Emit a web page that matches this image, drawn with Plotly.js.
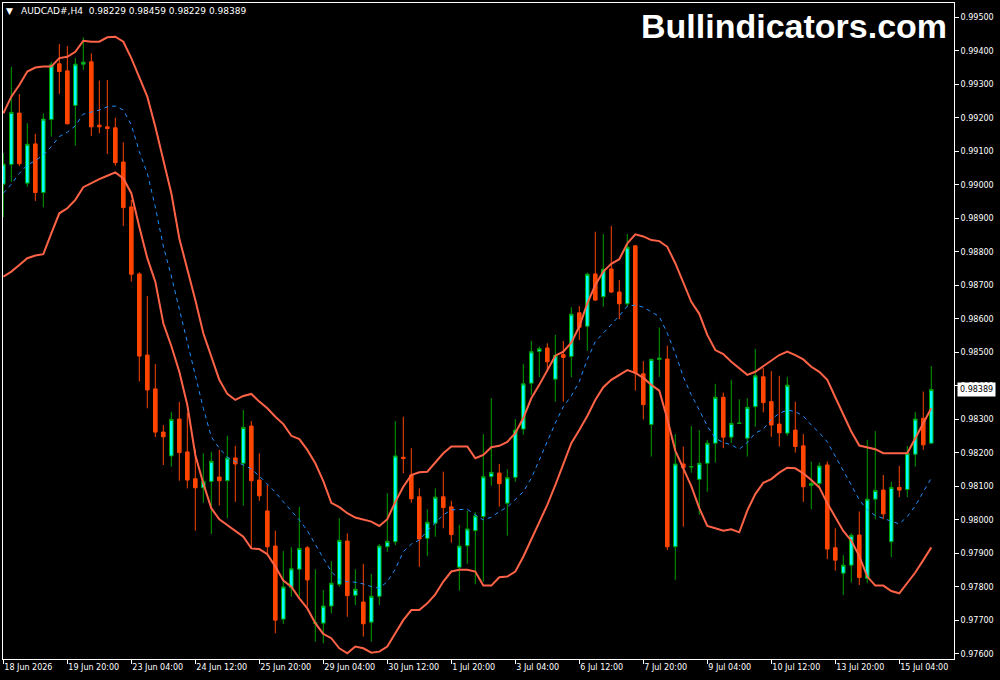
<!DOCTYPE html>
<html>
<head>
<meta charset="utf-8">
<script src="https://cdn.plot.ly/plotly-3.0.1.min.js"></script>
<style>html,body{margin:0;padding:0;background:#000;}#chart{width:1000px;height:680px;}</style>
</head>
<body>
<div id="chart"></div>
<script>
const symbol = "AUDCAD#,H4";
const watermark = "Bullindicators.com";
const tickLabels = ["18 Jun 2026","19 Jun 20:00","23 Jun 04:00","24 Jun 12:00","25 Jun 20:00","29 Jun 04:00","30 Jun 12:00","1 Jul 20:00","3 Jul 04:00","6 Jul 12:00","7 Jul 20:00","9 Jul 04:00","10 Jul 12:00","13 Jul 20:00","15 Jul 04:00"];

const open = [
0.99002,0.99061,0.99214,0.99005,0.99122,0.98977,0.99195,0.99361,0.99340,0.99237,
0.99360,0.99367,0.99178,0.99173,0.99170,0.99068,0.98934,0.98734,0.98492,0.98391,
0.98262,0.98191,0.98301,0.98203,0.98123,0.98096,0.98115,0.98128,0.98117,0.98185,
0.98169,0.98280,0.98119,0.98027,0.97922,0.97704,0.97798,0.97853,0.97917,0.97692,
0.97692,0.97743,0.97808,0.97937,0.97775,0.97755,0.97695,0.97772,0.97920,0.97935,
0.98187,0.98134,0.98069,0.97945,0.97990,0.98069,0.98039,0.97859,0.97923,0.97968,
0.98010,0.98129,0.98140,0.98050,0.98127,0.98271,0.98408,0.98503,0.98513,0.98420,
0.98493,0.98488,0.98618,0.98578,0.98734,0.98666,0.98749,0.98680,0.98645,0.98818,
0.98436,0.98285,0.98479,0.98480,0.97920,0.98167,0.98158,0.98121,0.98169,0.98229,
0.98366,0.98247,0.98288,0.98244,0.98338,0.98427,0.98353,0.98286,0.98259,0.98268,
0.98221,0.98103,0.98109,0.98164,0.97917,0.97841,0.97865,0.97955,0.97826,0.98062,
0.98089,0.97935,0.98097,0.98091,0.98196,0.98303,0.98229];

const high = [
0.99095,0.99352,0.99271,0.99184,0.99152,0.99213,0.99367,0.99420,0.99414,0.99378,
0.99440,0.99392,0.99311,0.99313,0.99200,0.99127,0.98955,0.98739,0.98668,0.98465,
0.98283,0.98322,0.98352,0.98320,0.98211,0.98199,0.98203,0.98209,0.98251,0.98221,
0.98328,0.98295,0.98199,0.98104,0.97968,0.97907,0.97919,0.98039,0.97922,0.97853,
0.97791,0.97877,0.98005,0.97960,0.97853,0.97869,0.97839,0.97928,0.98080,0.98295,
0.98308,0.98214,0.98094,0.98032,0.98094,0.98144,0.98057,0.97985,0.98027,0.98023,
0.98256,0.98363,0.98167,0.98151,0.98301,0.98465,0.98534,0.98517,0.98527,0.98552,
0.98534,0.98635,0.98638,0.98738,0.98860,0.98853,0.98877,0.98716,0.98853,0.98820,
0.98474,0.98481,0.98574,0.98520,0.98256,0.98219,0.98280,0.98268,0.98239,0.98406,
0.98380,0.98418,0.98360,0.98363,0.98510,0.98453,0.98444,0.98430,0.98427,0.98353,
0.98256,0.98174,0.98171,0.98174,0.97975,0.97895,0.97960,0.98025,0.98239,0.98265,
0.98134,0.98114,0.98161,0.98221,0.98322,0.98383,0.98459];

const low = [
0.98904,0.99009,0.99056,0.98994,0.98952,0.98933,0.99144,0.99271,0.99180,0.99117,
0.99343,0.99146,0.99154,0.99092,0.99057,0.98877,0.98711,0.98413,0.98333,0.98247,
0.98164,0.98159,0.98117,0.98094,0.97968,0.98051,0.97958,0.98043,0.98005,0.98054,
0.98043,0.97915,0.98057,0.97895,0.97662,0.97690,0.97771,0.97771,0.97741,0.97637,
0.97632,0.97721,0.97801,0.97711,0.97746,0.97652,0.97637,0.97746,0.97905,0.97925,
0.98139,0.98051,0.97860,0.97892,0.97950,0.97975,0.97932,0.97789,0.97869,0.97808,
0.97816,0.98102,0.98040,0.97953,0.98114,0.98254,0.98373,0.98426,0.98442,0.98353,
0.98353,0.98426,0.98537,0.98505,0.98654,0.98636,0.98677,0.98599,0.98636,0.98386,
0.98300,0.98189,0.98427,0.97910,0.97821,0.97980,0.98141,0.98015,0.98084,0.98171,
0.98214,0.98229,0.98287,0.98189,0.98278,0.98321,0.98248,0.98219,0.98251,0.98201,
0.98054,0.98032,0.98094,0.97883,0.97849,0.97776,0.97813,0.97806,0.97811,0.98002,
0.98002,0.97889,0.98068,0.98068,0.98159,0.98209,0.98229];

const close = [
0.99062,0.99216,0.99063,0.99121,0.98977,0.99196,0.99358,0.99338,0.99182,0.99360,
0.99366,0.99173,0.99173,0.99168,0.99066,0.98932,0.98733,0.98489,0.98388,0.98262,
0.98248,0.98300,0.98201,0.98119,0.98096,0.98115,0.98175,0.98117,0.98185,0.98167,
0.98276,0.98117,0.98072,0.97920,0.97701,0.97800,0.97854,0.97915,0.97821,0.97693,
0.97743,0.97811,0.97939,0.97774,0.97793,0.97690,0.97772,0.97922,0.97936,0.98191,
0.98183,0.98063,0.97943,0.97993,0.98068,0.98037,0.97956,0.97922,0.97973,0.98012,
0.98129,0.98142,0.98108,0.98126,0.98268,0.98406,0.98502,0.98511,0.98472,0.98491,
0.98485,0.98614,0.98575,0.98733,0.98656,0.98748,0.98680,0.98645,0.98814,0.98438,
0.98344,0.98479,0.98483,0.97920,0.98167,0.98156,0.98159,0.98169,0.98229,0.98366,
0.98247,0.98288,0.98289,0.98336,0.98430,0.98350,0.98283,0.98260,0.98402,0.98219,
0.98099,0.98109,0.98161,0.97913,0.97880,0.97865,0.97954,0.97828,0.98062,0.98088,
0.98018,0.98097,0.98089,0.98199,0.98301,0.98224,0.98389];

const upperBand = [
0.99213,0.99263,0.99298,0.99338,0.99350,0.99353,0.99353,0.99378,0.99382,0.99397,
0.99430,0.99427,0.99427,0.99440,0.99442,0.99427,0.99378,0.99318,0.99263,0.99173,
0.99074,0.98975,0.98840,0.98751,0.98656,0.98557,0.98487,0.98418,0.98376,0.98358,
0.98370,0.98376,0.98353,0.98333,0.98308,0.98286,0.98251,0.98241,0.98209,0.98169,
0.98116,0.98051,0.98038,0.98020,0.98007,0.98002,0.97995,0.97982,0.98002,0.98054,
0.98099,0.98134,0.98142,0.98144,0.98171,0.98199,0.98219,0.98219,0.98219,0.98184,
0.98194,0.98217,0.98221,0.98233,0.98259,0.98304,0.98363,0.98403,0.98447,0.98490,
0.98502,0.98529,0.98577,0.98646,0.98701,0.98741,0.98764,0.98778,0.98825,0.98852,
0.98846,0.98835,0.98832,0.98815,0.98766,0.98706,0.98651,0.98615,0.98552,0.98507,
0.98495,0.98472,0.98453,0.98433,0.98442,0.98459,0.98475,0.98492,0.98502,0.98492,
0.98479,0.98457,0.98442,0.98418,0.98366,0.98313,0.98264,0.98222,0.98217,0.98211,
0.98199,0.98199,0.98199,0.98199,0.98244,0.98288,0.98333];

const middleBand = [
0.98975,0.99002,0.99034,0.99059,0.99072,0.99089,0.99114,0.99144,0.99157,0.99176,
0.99211,0.99218,0.99223,0.99233,0.99235,0.99223,0.99179,0.99099,0.99034,0.98934,
0.98817,0.98728,0.98629,0.98531,0.98427,0.98333,0.98248,0.98214,0.98187,0.98174,
0.98164,0.98152,0.98131,0.98107,0.98083,0.98054,0.98027,0.98000,0.97968,0.97925,
0.97886,0.97846,0.97821,0.97816,0.97814,0.97809,0.97801,0.97796,0.97816,0.97853,
0.97905,0.97928,0.97940,0.97967,0.97990,0.98015,0.98030,0.98032,0.98032,0.98015,
0.98000,0.98008,0.98025,0.98038,0.98060,0.98084,0.98124,0.98179,0.98237,0.98289,
0.98338,0.98370,0.98413,0.98479,0.98532,0.98557,0.98582,0.98609,0.98638,0.98641,
0.98635,0.98621,0.98607,0.98557,0.98497,0.98427,0.98373,0.98328,0.98280,0.98244,
0.98231,0.98224,0.98211,0.98231,0.98259,0.98271,0.98300,0.98318,0.98328,0.98323,
0.98310,0.98283,0.98260,0.98233,0.98191,0.98149,0.98104,0.98060,0.98030,0.98013,
0.98005,0.97997,0.97988,0.98010,0.98042,0.98084,0.98124];

const lowerBand = [
0.98726,0.98741,0.98761,0.98781,0.98789,0.98793,0.98855,0.98915,0.98930,0.98955,
0.98993,0.99006,0.99017,0.99027,0.99037,0.99019,0.98975,0.98874,0.98781,0.98711,
0.98587,0.98519,0.98442,0.98343,0.98194,0.98109,0.98035,0.98002,0.97985,0.97968,
0.97950,0.97915,0.97913,0.97898,0.97861,0.97819,0.97801,0.97766,0.97736,0.97692,
0.97660,0.97647,0.97617,0.97602,0.97622,0.97617,0.97604,0.97607,0.97622,0.97662,
0.97701,0.97731,0.97731,0.97751,0.97778,0.97816,0.97846,0.97851,0.97851,0.97846,
0.97804,0.97804,0.97829,0.97831,0.97846,0.97890,0.97940,0.97995,0.98045,0.98104,
0.98169,0.98229,0.98268,0.98310,0.98358,0.98396,0.98418,0.98433,0.98447,0.98439,
0.98424,0.98403,0.98386,0.98301,0.98207,0.98154,0.98101,0.98035,0.97982,0.97975,
0.97968,0.97972,0.97963,0.98028,0.98077,0.98111,0.98122,0.98141,0.98156,0.98154,
0.98139,0.98119,0.98097,0.98050,0.98010,0.97967,0.97938,0.97892,0.97831,0.97804,
0.97804,0.97788,0.97781,0.97813,0.97843,0.97880,0.97918];

const barIndex = open.map((_, i) => i);
const tickIndex = tickLabels.map((_, k) => k * 8);
const last = open.length - 1;
const fmt = v => v.toFixed(5);

const axisFont = {family: 'DejaVu Sans, sans-serif', size: 8, color: '#ffffff'};

const traces = [
  {
    type: 'candlestick',
    x: barIndex, open: open, high: high, low: low, close: close,
    increasing: {line: {color: '#00a000', width: 1}, fillcolor: '#00ffff'},
    decreasing: {line: {color: '#ff4500', width: 1}, fillcolor: '#ff4500'},
    whiskerwidth: 0,
    hoverinfo: 'skip',
    showlegend: false
  },
  {
    type: 'scatter', mode: 'lines', x: barIndex, y: upperBand,
    line: {color: '#ff6347', width: 2}, hoverinfo: 'skip'
  },
  {
    type: 'scatter', mode: 'lines', x: barIndex, y: lowerBand,
    line: {color: '#ff6347', width: 2}, hoverinfo: 'skip'
  },
  {
    type: 'scatter', mode: 'lines', x: barIndex, y: middleBand,
    line: {color: '#1e90ff', width: 1, dash: '4px,4px'}, hoverinfo: 'skip'
  }
];

const layout = {
  width: 1000, height: 680,
  paper_bgcolor: '#000000', plot_bgcolor: '#000000',
  margin: {l: 3, r: 46, t: 3, b: 21, pad: 0},
  showlegend: false,
  boxgap: 0.36,
  hovermode: false,
  xaxis: {
    range: [-0.04, 118.84], showgrid: false, zeroline: false,
    showline: true, mirror: true, linecolor: '#ffffff', linewidth: 1,
    ticks: 'outside', ticklen: 4, tickcolor: '#ffffff', tickwidth: 1,
    tickmode: 'array', tickvals: tickIndex, ticktext: tickLabels,
    ticklabelposition: 'outside right',
    tickfont: axisFont,
    rangeslider: {visible: false}, fixedrange: true
  },
  yaxis: {
    side: 'right', range: [0.97585, 0.995425],
    tick0: 0.976, dtick: 0.001, tickformat: '.5f',
    showgrid: false, zeroline: false,
    showline: true, mirror: true, linecolor: '#ffffff', linewidth: 1,
    ticks: 'outside', ticklen: 4, tickcolor: '#ffffff', tickwidth: 1,
    tickfont: axisFont, fixedrange: true
  },
  annotations: [
    {
      xref: 'paper', yref: 'paper', x: 0.0068, y: 0.9885, xanchor: 'center', yanchor: 'middle',
      text: '\u25BC', showarrow: false, font: {family: 'DejaVu Sans, sans-serif', size: 9, color: '#ffffff'}
    },
    {
      xref: 'paper', yref: 'paper', x: 0.0168, y: 0.9883, xanchor: 'left', yanchor: 'middle',
      text: symbol + '\u00a0\u00a0' + [open[last], high[last], low[last], close[last]].map(fmt).join(' '),
      showarrow: false, font: {family: 'DejaVu Sans, sans-serif', size: 9, color: '#ffffff'}
    },
    {
      xref: 'paper', yref: 'paper', x: 0.9950, y: 0.965, xanchor: 'right', yanchor: 'middle',
      text: '<b>' + watermark + '</b>', showarrow: false,
      font: {family: 'Liberation Sans, Arial, sans-serif', size: 34, color: '#ffffff'}
    },
    {
      xref: 'paper', yref: 'y', x: 1.0032, y: close[last], xanchor: 'left', yanchor: 'middle',
      text: fmt(close[last]), showarrow: false, bgcolor: '#ffffff', borderpad: 2,
      font: {family: 'DejaVu Sans, sans-serif', size: 8, color: '#000000'}
    }
  ]
};

Plotly.newPlot('chart', traces, layout, {staticPlot: true, displayModeBar: false});
</script>
</body>
</html>
